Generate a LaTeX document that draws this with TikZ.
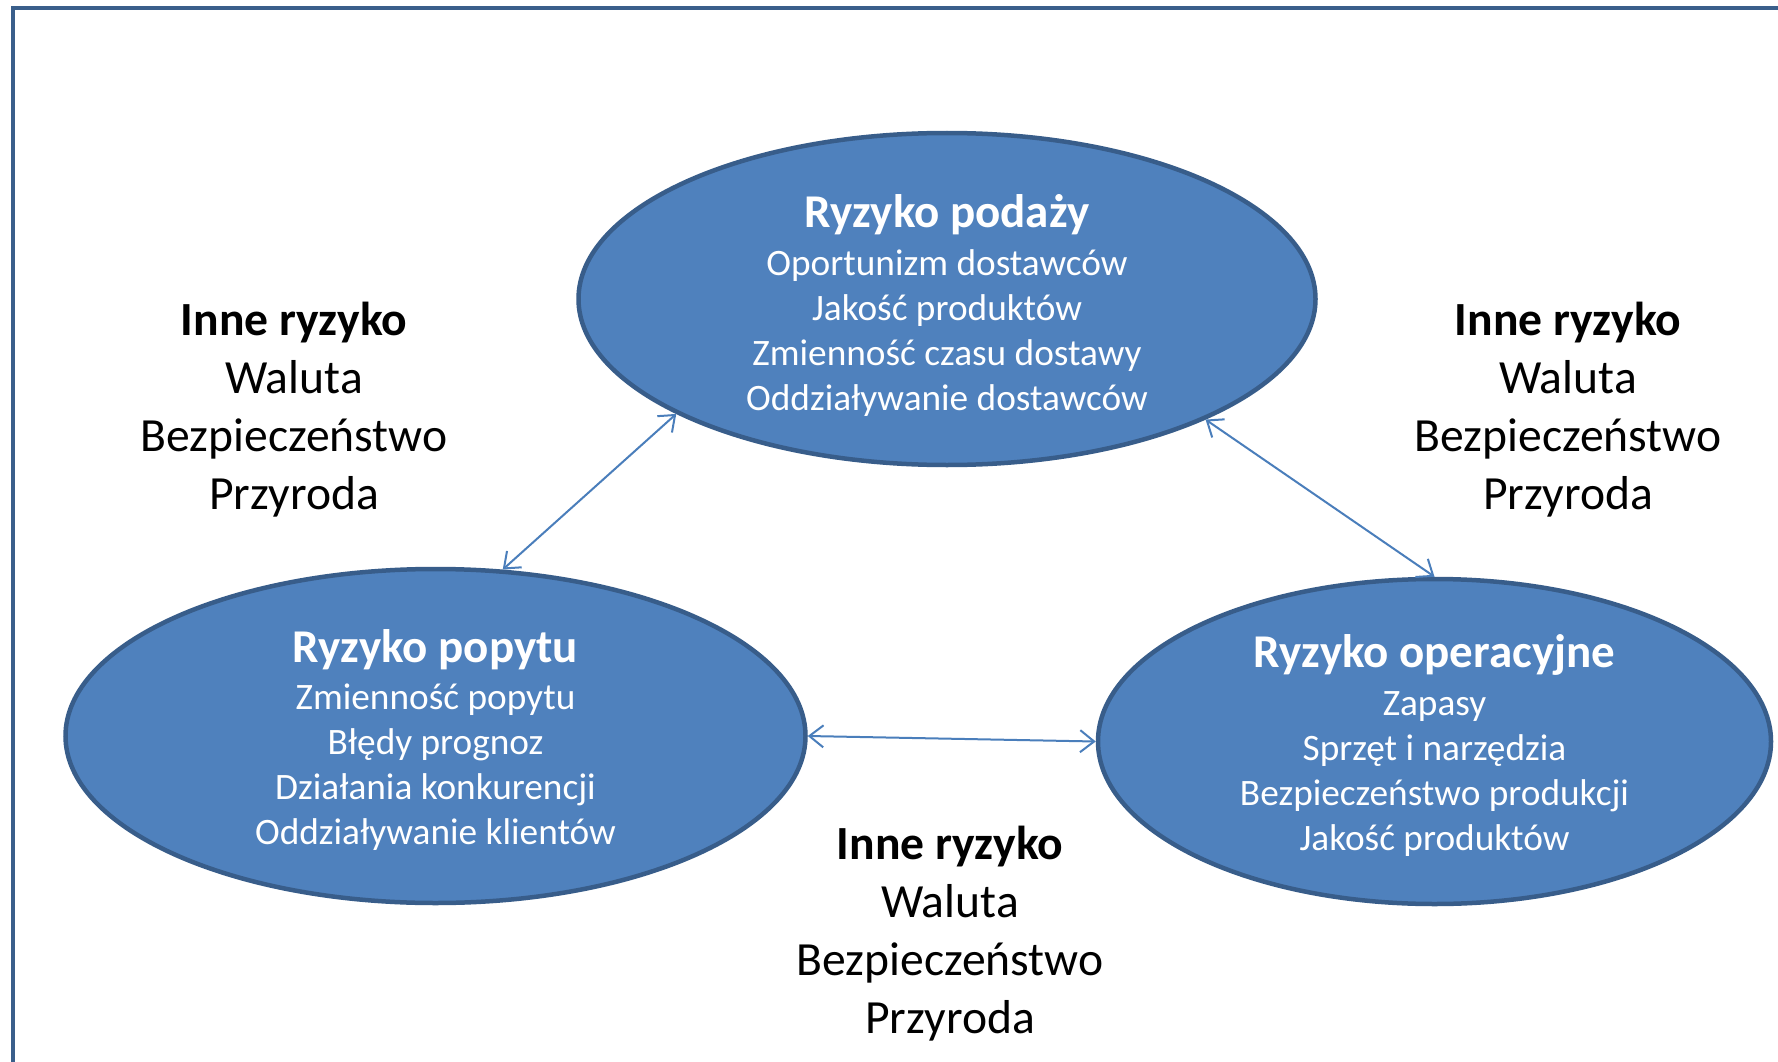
\documentclass[tikz,border=0pt]{standalone}
\usepackage{fontspec}
\setmainfont{Carlito}
\usetikzlibrary{arrows.meta,shapes.geometric}
\definecolor{fillblue}{HTML}{4F81BD}
\definecolor{edgeblue}{HTML}{385D8A}
\definecolor{arrowblue}{HTML}{4A7EBB}
\definecolor{framecol}{HTML}{3A5F8B}
\tikzset{
  blob/.style={ellipse, draw=edgeblue, fill=fillblue, line width=4.5pt, inner sep=0pt},
  intext/.style={align=center, text=white, inner sep=0pt, font=\fontsize{37.3}{45}\selectfont},
  outtext/.style={align=center, text=black, inner sep=0pt, font=\fontsize{47.6}{58}\selectfont},
  link/.style={draw=arrowblue, line width=2pt, {Straight Barb[length=14pt,width=22pt,line width=2pt]}-{Straight Barb[length=14pt,width=22pt,line width=2pt]}}
}
\newcommand{\ttl}[1]{{\fontsize{47}{45}\selectfont\bfseries #1}}
\begin{document}
\begin{tikzpicture}[x=1pt,y=-1pt]
\useasboundingbox (0,0) rectangle (1778,1062);
\fill[white] (0,0) rectangle (1778,1062);
\coordinate (fa) at (13,1070);
\coordinate (fb) at (13,8);
\coordinate (fc) at (1790,8);
\draw[framecol, line width=4.5pt] (fa) -- (fb) -- (fc);

\node[blob, minimum width=737pt, minimum height=332pt] (sup) at (947,299) {};
\node[blob, minimum width=740pt, minimum height=334pt] (dem) at (435.5,736) {};
\node[blob, minimum width=673pt, minimum height=325pt] (ops) at (1434.5,741.5) {};

\node[intext] (supt) at (947,305) {\ttl{Ryzyko podaży}\\[3pt]
Oportunizm dostawców\\ Jakość produktów\\ Zmienność czasu dostawy\\ Oddziaływanie dostawców};
\node[intext] (demt) at (435.5,740) {\ttl{Ryzyko popytu}\\[2pt]
Zmienność popytu\\ Błędy prognoz\\ Działania konkurencji\\ Oddziaływanie klientów};
\node[intext] (opst) at (1434.5,746) {\ttl{Ryzyko operacyjne}\\[3pt]
Zapasy\\ Sprzęt i narzędzia\\ Bezpieczeństwo produkcji\\ Jakość produktów};

\node[outtext] (o1) at (294,410) {\bfseries Inne ryzyko\\ Waluta\\ Bezpieczeństwo\\ Przyroda};
\node[outtext] (o2) at (1568,410) {\bfseries Inne ryzyko\\ Waluta\\ Bezpieczeństwo\\ Przyroda};
\node[outtext] (o3) at (950,934) {\bfseries Inne ryzyko\\ Waluta\\ Bezpieczeństwo\\ Przyroda};

\draw[link] (sup.203.7) -- (dem.68.5);
\draw[link] (sup.335.3) -- (ops.90.9);
\draw[link] (dem.0) -- (ops.180);
\end{tikzpicture}
\end{document}
